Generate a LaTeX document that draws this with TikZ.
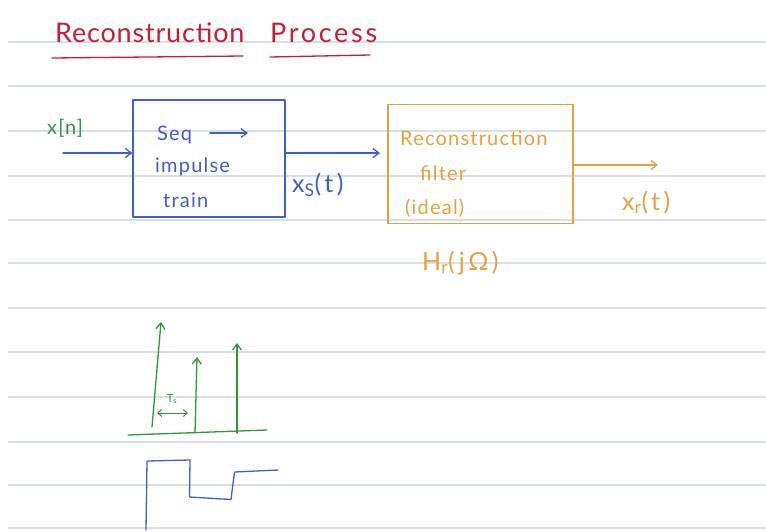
\documentclass[tikz,border=0pt]{standalone}
\usepackage{fontspec}
\setmainfont{Lato}
\usetikzlibrary{arrows.meta}
\definecolor{inkred}{HTML}{C81E32}
\definecolor{inkblue}{HTML}{3F5FD2}
\definecolor{inkorange}{HTML}{E9A23B}
\definecolor{inkgreen}{HTML}{2F9A35}
\definecolor{ruled}{HTML}{D5E0EA}
\tikzset{
  pen/.style={line width=1.3pt, line cap=round, line join=round},
  tip/.style={-{Straight Barb[length=6pt,width=9pt]}},
  dtip/.style={{Straight Barb[length=4pt,width=7pt]}-{Straight Barb[length=4pt,width=7pt]}},
  hand/.style={inner sep=0pt, font=\fontsize{20}{22}\selectfont\addfontfeature{LetterSpace=6}},
  bighand/.style={inner sep=0pt, font=\fontsize{25}{27}\selectfont\addfontfeature{LetterSpace=14}},
}
\begin{document}
\begin{tikzpicture}[x=1pt,y=-1pt]
\useasboundingbox (0,0) rectangle (766,531);
\fill[white] (0,0) rectangle (766,531);
\foreach \yy in {42,86,131,176,220,263,308,352,397,442,485,528}
  \draw[ruled, line width=1.6pt] (8,\yy) -- (766,\yy);

% title
\node[anchor=base west, inner sep=0pt, text=inkred, font=\fontsize{27}{30}\selectfont\addfontfeature{LetterSpace=3}] (t1) at (55,42) {Reconstruction};
\node[anchor=base west, inner sep=0pt, text=inkred, font=\fontsize{27}{30}\selectfont\addfontfeature{LetterSpace=10}] (t2) at (270,42) {Process};
\draw[pen, inkred] (52,58) -- (243,56);
\draw[pen, inkred] (270,57) -- (370,55);

% blue box
\node[draw=inkblue, pen, minimum width=152pt, minimum height=117pt, inner sep=0pt] (seq) at (209,158.5) {};
\node[hand, text=inkblue, anchor=base west] (s1) at (157,140) {Seq};
\coordinate (sa) at (248,133);
\draw[pen, inkblue, tip] (210,133) -- (sa);
\node[hand, text=inkblue, anchor=base west] (s2) at (155,172) {impulse};
\node[hand, text=inkblue, anchor=base west] (s3) at (163,207) {train};

% input
\coordinate (xin) at (63,153);
\node[hand, text=inkgreen, anchor=base west] (xn) at (47,134) {x[n]};
\draw[pen, inkblue, tip] (xin) -- (xin -| seq.west);

% orange box
\node[draw=inkorange, pen, minimum width=185pt, minimum height=119pt, inner sep=0pt] (rf) at (480.5,164) {};
\node[hand, text=inkorange, anchor=base west] (r1) at (400,145) {Reconstruction};
\node[hand, text=inkorange, anchor=base west] (r2) at (420,180) {filter};
\node[hand, text=inkorange, anchor=base west] (r3) at (405,214) {(ideal)};
\draw[pen, inkblue, tip] (seq.east |- 0,153) -- (380,153) coordinate (rin);
\node[bighand, text=inkblue, anchor=base west] (xs) at (292,192) {x\textsubscript{S}(t)};

% output
\coordinate (xout) at (658,165);
\draw[pen, inkorange, tip] (rf.east |- xout) -- (xout);
\node[bighand, text=inkorange, anchor=base west] (xr) at (622,210) {x\textsubscript{r}(t)};
\node[bighand, text=inkorange, anchor=base west] (hr) at (422,270) {H\textsubscript{r}(jΩ)};

% impulse train
\draw[pen, inkgreen] (128,435) -- (267,430);
\draw[pen, inkgreen, tip] (152,427) -- (161,322);
\draw[pen, inkgreen, tip] (195,433) -- (197,357);
\draw[pen, inkgreen, tip] (237,433) -- (237,343);
\draw[pen, inkgreen, dtip, line width=1pt] (157,413) -- (188,413);
\node[inner sep=0pt, text=inkgreen, font=\fontsize{11}{12}\selectfont] (ts) at (172,399) {T\textsubscript{s}};

% staircase
\draw[pen, inkblue] (146,530) -- (147,461) -- (190,460) -- (189.5,497) -- (231,499.5) -- (234.5,472) -- (278,470);
\end{tikzpicture}
\end{document}
